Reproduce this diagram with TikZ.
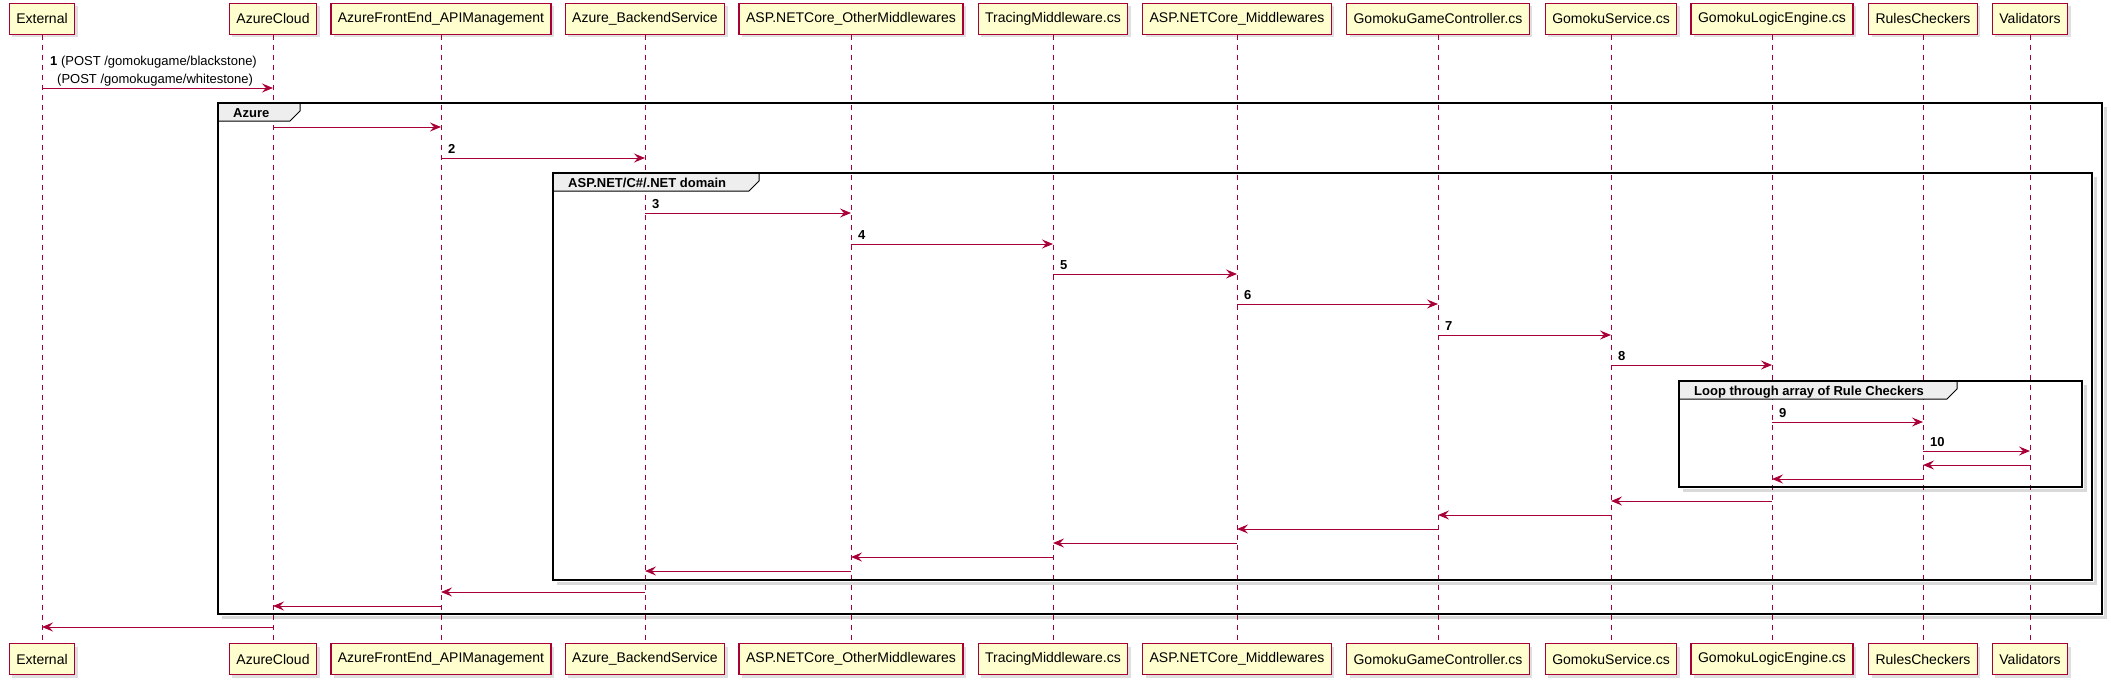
\documentclass[tikz,border=0pt]{standalone}
\usepackage{fontspec}
\setmainfont{Liberation Sans}
\usetikzlibrary{arrows.meta}
\usetikzlibrary{shadows}
\definecolor{umlred}{HTML}{A80036}
\definecolor{umlfill}{HTML}{FEFECE}
\definecolor{tabgray}{HTML}{EEEEEE}

\begin{document}
\begin{tikzpicture}[x=1pt,y=-1pt,
        actor/.style={draw=umlred,line width=1.3pt,fill=umlfill,inner xsep=7pt,
            minimum height=31pt,font=\fontsize{14}{16}\selectfont,
            drop shadow={shadow xshift=3pt,shadow yshift=-3pt,opacity=.25}},
        lifeline/.style={umlred,line width=1pt,dash pattern=on 5pt off 5pt},
        msg/.style={umlred,line width=1pt,-{Stealth[length=11pt,width=9pt,inset=4pt]}},
        num/.style={font=\fontsize{13}{15}\selectfont\bfseries,anchor=base west,inner sep=0pt},
        txt/.style={font=\fontsize{13}{15}\selectfont,anchor=base west,inner sep=0pt},
        grp/.style={line width=2.2pt},
        grptab/.style={fill=tabgray,draw=black,line width=1pt},
        grpshade/.style={black,opacity=.15,line width=3pt}]
                \useasboundingbox (0,0) rectangle (2111,685);
                %participants
                \foreach \n/\x/\t in {ext/42/External, cloud/273/AzureCloud,
                        front/441/AzureFrontEnd\_APIManagement, back/645/Azure\_BackendService,
                        other/851/ASP.NETCore\_OtherMiddlewares, trace/1053/TracingMiddleware.cs,
                        mw/1237/ASP.NETCore\_Middlewares, ctrl/1438/GomokuGameController.cs,
                        svc/1611/GomokuService.cs, eng/1772/GomokuLogicEngine.cs,
                        rules/1923/RulesCheckers, valid/2030/Validators}
                {
                    \node[actor] (\n-top) at (\x,18.8) {\t};
                    \node[actor] (\n-bot) at (\x,659) {\t};
                }
                %lifelines
                \foreach \n in {ext,cloud,front,back,other,trace,mw,ctrl,svc,eng,rules,valid}
                    \draw[lifeline] (\n-top.south) -- (\n-bot.north);
                %groups
                \foreach \xa/\ya/\xb/\yb/\xt/\t [count=\i] in {218/103/2102/614/300/Azure,
                        553/173/2092/580/759/{ASP.NET/C\#/.NET domain},
                        1679/381/2082/487/1957/{Loop through array of Rule Checkers}}
                {
                    \draw[grpshade] (\xa+4,\yb+3) -- (\xb+3,\yb+3) -- (\xb+3,\ya+4);
                    \draw[grptab] (\xa,\ya) -- (\xt,\ya) -- (\xt,\ya+8) -- (\xt-10,\ya+18)
                        -- (\xa,\ya+18) -- cycle;
                    \node[num] (tab\i) at (\xa+15,\ya+14) {\t};
                    \draw[grp] (\xa,\ya) rectangle (\xb,\yb);
                }
                %numbered calls
                \foreach \a/\b/\y/\k in {front/back/158/2, back/other/213/3, other/trace/244/4,
                        trace/mw/274/5, mw/ctrl/304/6, ctrl/svc/335/7, svc/eng/365/8,
                        eng/rules/422/9, rules/valid/451/10}
                {
                    \draw[msg] (\a-top |- 0,\y) -- (\b-top |- 0,\y);
                    \node[num] (n\k) at ([xshift=7pt]\a-top |- 0,\y-5) {\k};
                }
                %first call
                \draw[msg] (ext-top |- 0,88) -- (cloud-top |- 0,88);
                \node[txt] (n1) at (50,66) {\textbf{1} (POST /gomokugame/blackstone)};
                \node[txt] (n1b) at (57,83) {(POST /gomokugame/whitestone)};
                %plain calls and returns
                \foreach \a/\b/\y in {cloud/front/127, valid/rules/465, rules/eng/479,
                        eng/svc/501, svc/ctrl/515, ctrl/mw/529, mw/trace/543, trace/other/557,
                        other/back/571, back/front/592, front/cloud/606, cloud/ext/627}
                    \draw[msg] (\a-top |- 0,\y) -- (\b-top |- 0,\y);
\end{tikzpicture}
\end{document}
